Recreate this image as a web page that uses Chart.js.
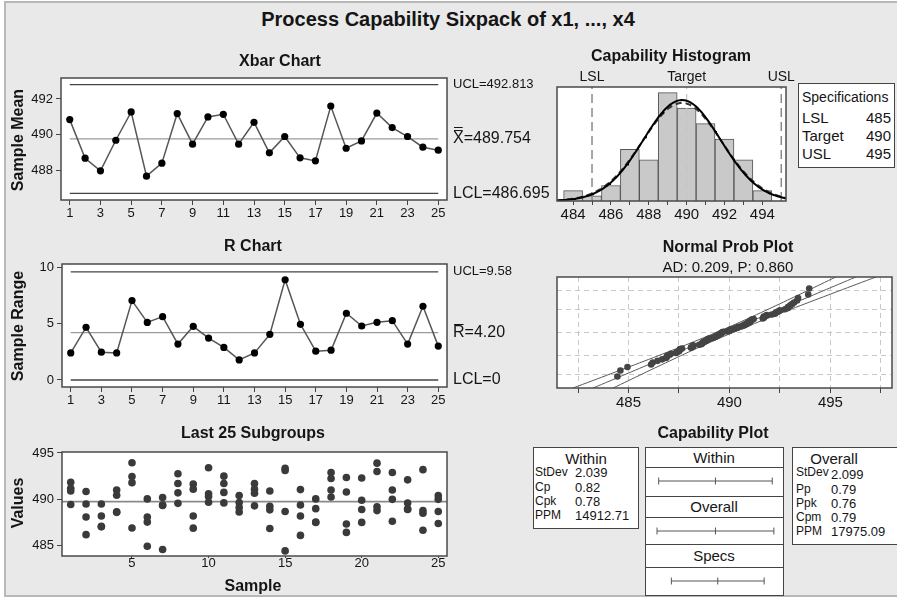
<!DOCTYPE html>
<html>
<head>
<meta charset="utf-8">
<title>Process Capability Sixpack</title>
<script src="https://cdn.jsdelivr.net/npm/chart.js@4.4.1/dist/chart.umd.min.js"></script>
<style>
  body { margin: 0; width: 897px; height: 597px; background: #fff; overflow: hidden;
         font-family: "Liberation Sans", Arial, sans-serif; color: #151515; }
  #frame { position: absolute; left: 4px; top: 1px; width: 900px; height: 592px;
           background: #e9e9e9; border: 2px solid #b8b8b8; border-right: none; }
  canvas { position: absolute; }
  .c { position: absolute; white-space: nowrap; transform: translate(-50%, -50%); }
  .l { position: absolute; white-space: nowrap; transform: translate(0, -50%); }
  .v { position: absolute; white-space: nowrap; transform: translate(-50%, -50%) rotate(-90deg); }
  .b { font-weight: bold; font-size: 16px; }
  .box { position: absolute; border: 1px solid #444; background: #fff; box-sizing: border-box; }
</style>
</head>
<body>
<div id="frame"></div>

<canvas id="xbar"></canvas>
<canvas id="rchart"></canvas>
<canvas id="last25"></canvas>
<canvas id="hist"></canvas>
<canvas id="prob"></canvas>

<div class="c" style="left:448px;top:19px;font-weight:bold;font-size:20px;">Process Capability Sixpack of x1, ..., x4</div>

<div class="c b" style="left:280px;top:61px;">Xbar Chart</div>
<div class="v b" style="left:18px;top:140px;">Sample Mean</div>
<div class="c b" style="left:253px;top:246px;">R Chart</div>
<div class="v b" style="left:18px;top:326px;">Sample Range</div>
<div class="c b" style="left:253px;top:433px;">Last 25 Subgroups</div>
<div class="v b" style="left:18px;top:503px;">Values</div>
<div class="c b" style="left:253px;top:586px;">Sample</div>

<div class="c b" style="left:671px;top:56px;">Capability Histogram</div>
<div class="c b" style="left:728px;top:247px;">Normal Prob Plot</div>
<div class="c" style="left:728px;top:266px;font-size:15px;">AD: 0.209, P: 0.860</div>
<div class="c b" style="left:713px;top:433px;">Capability Plot</div>

<!-- specification limits -->
<div class="box" style="left:798px;top:83px;width:97px;height:85px;"></div>
<div class="l" style="left:802px;top:97px;font-size:14px;">Specifications</div>
<div id="specRows"></div>

<!-- within / overall statistics -->
<div class="box" style="left:533px;top:447px;width:106px;height:82px;"></div>
<div class="c" style="left:586px;top:458px;font-size:15px;">Within</div>
<div id="withinRows"></div>
<div class="box" style="left:792px;top:447px;width:110px;height:98px;"></div>
<div class="c" style="left:834px;top:458px;font-size:15px;">Overall</div>
<div id="overallRows"></div>

<!-- interval column -->
<div class="box" style="left:645px;top:447px;width:139px;height:149px;"></div>
<div style="position:absolute;left:645px;top:467px;width:139px;border-top:1px solid #444;"></div>
<div style="position:absolute;left:645px;top:496px;width:139px;border-top:1px solid #444;"></div>
<div style="position:absolute;left:645px;top:517px;width:139px;border-top:1px solid #444;"></div>
<div style="position:absolute;left:645px;top:544px;width:139px;border-top:1px solid #444;"></div>
<div style="position:absolute;left:645px;top:567px;width:139px;border-top:1px solid #444;"></div>
<div class="c" style="left:714px;top:457px;font-size:15px;">Within</div>
<div class="c" style="left:714px;top:506px;font-size:15px;">Overall</div>
<div class="c" style="left:714px;top:555px;font-size:15px;">Specs</div>
<canvas id="ivWithin"></canvas>
<canvas id="ivOverall"></canvas>
<canvas id="ivSpecs"></canvas>

<script>
// subgroup means and ranges, samples 1..25
const samples = [1, 2, 3, 4, 5, 6, 7, 8, 9, 10, 11, 12, 13, 14, 15, 16, 17, 18, 19, 20, 21, 22, 23, 24, 25];
const xbarValues = [490.84, 488.67, 487.96, 489.68, 491.27, 487.66, 488.39, 491.18, 489.46, 490.99,
                    491.14, 489.46, 490.69, 488.97, 489.89, 488.69, 488.52, 491.60, 489.23, 489.64,
                    491.21, 490.39, 489.89, 489.29, 489.12];
const rangeValues = [2.40, 4.66, 2.46, 2.40, 7.03, 5.10, 5.61, 3.18, 4.75, 3.71, 2.88, 1.78, 2.40,
                     4.04, 8.87, 4.93, 2.55, 2.64, 5.91, 4.78, 5.11, 5.25, 3.18, 6.53, 3.00];

// the four measurements of each subgroup
const subgroups = [
  [491.85, 491.2, 490.9, 489.45], [490.85, 489.5, 488.1, 486.2], [489.5, 488.2, 487.1, 487.04],
  [491.0, 490.45, 488.65, 488.6], [493.95, 492.45, 491.8, 486.92], [490.05, 488.1, 487.55, 484.95],
  [490.2, 489.4, 489.35, 484.6], [492.75, 491.7, 490.7, 489.57], [491.65, 491.1, 488.2, 486.9],
  [493.4, 490.6, 490.3, 489.69], [492.5, 491.7, 490.75, 489.62], [490.42, 489.65, 489.13, 488.64],
  [491.7, 491.1, 490.66, 489.3], [490.9, 489.25, 488.87, 486.86], [493.35, 493.1, 488.7, 484.45],
  [491.05, 489.4, 488.2, 486.12], [490.05, 489.0, 487.55, 487.5], [492.9, 492.25, 491.0, 490.26],
  [492.35, 490.8, 487.35, 486.44], [492.3, 489.9, 488.9, 487.52], [493.9, 493.0, 489.2, 488.79],
  [492.9, 491.0, 490.0, 487.65], [492.1, 489.6, 488.95, 488.92], [493.2, 488.8, 488.5, 486.67],
  [490.4, 490.0, 488.7, 487.4]
];

// histogram bins (width 1)
const binCenters = [484, 485, 486, 487, 488, 489, 490, 491, 492, 493, 494];
const binCounts = [2, 1, 3, 10, 8, 21, 18, 15, 12, 8, 2];

// control limits and capability figures
const grandMean = 489.754, xbarUCL = 492.813, xbarLCL = 486.695;
const rBar = 4.20, rUCL = 9.58, rLCL = 0;
const LSL = 485, TARGET = 490, USL = 495;
const sdWithin = 2.039, sdOverall = 2.099;
const specRows = [['LSL', '485'], ['Target', '490'], ['USL', '495']];
const withinRows = [['StDev', '2.039'], ['Cp', '0.82'], ['Cpk', '0.78'], ['PPM', '14912.71']];
const overallRows = [['StDev', '2.099'], ['Pp', '0.79'], ['Ppk', '0.76'], ['Cpm', '0.79'], ['PPM', '17975.09']];
const probGridPercents = [1, 10, 50, 90, 99];

const FONT = '"Liberation Sans", Arial, sans-serif';
Chart.defaults.font.family = FONT;
Chart.defaults.color = '#151515';

// text rows of the little tables
function addRows(holderId, rows, x1, x2, ys, sizes, dy = []) {
  const holder = document.getElementById(holderId);
  rows.forEach((r, i) => {
    holder.insertAdjacentHTML('beforeend',
      `<div class="l" style="left:${x1}px;top:${ys[i]}px;font-size:${sizes[0]}px;">${r[0]}</div>` +
      `<div class="l" style="left:${x2}px;top:${ys[i] + (dy[i] || 0)}px;font-size:${sizes[1]}px;">${r[1]}</div>`);
  });
}
addRows('specRows', specRows, 802, 866, [117, 135, 153], [15, 15]);
addRows('withinRows', withinRows, 535, 575, [472, 487, 501, 515], [12, 13]);
addRows('overallRows', overallRows, 796, 831, [472, 489, 502.5, 517, 530.5], [12, 13], [2]);

// place a canvas and work out padding so the plot area lands on [l, t, r, b]
function fit(id, box, area) {
  const c = document.getElementById(id);
  c.style.left = box[0] + 'px';
  c.style.top = box[1] + 'px';
  c.width = box[2];
  c.height = box[3];
  return {
    canvas: c,
    padding: { left: 0, top: area[1] - box[1], right: box[0] + box[2] - area[2], bottom: 0 },
    yw: area[0] - box[0],
    xh: box[1] + box[3] - area[3]
  };
}

// white plot background and dark border round the plot area
const plotFrame = {
  id: 'plotFrame',
  beforeDraw(chart) {
    const a = chart.chartArea, ctx = chart.ctx;
    ctx.save();
    ctx.fillStyle = '#fff';
    ctx.fillRect(a.left, a.top, a.width, a.height);
    ctx.restore();
  },
  afterDraw(chart) {
    const a = chart.chartArea, ctx = chart.ctx;
    ctx.save();
    ctx.strokeStyle = '#4a4a4a';
    ctx.lineWidth = 1.5;
    ctx.strokeRect(a.left, a.top, a.width, a.height);
    ctx.restore();
  }
};

// UCL / centre / LCL labels to the right of the plot
const limitLabels = {
  id: 'limitLabels',
  afterDraw(chart, args, opts) {
    if (!opts.items) return;
    const ctx = chart.ctx, ys = chart.scales.y;
    ctx.save();
    ctx.fillStyle = '#151515';
    ctx.strokeStyle = '#151515';
    ctx.lineWidth = 1;
    ctx.textBaseline = 'middle';
    opts.items.forEach(it => {
      const py = ys.getPixelForValue(it.value);
      let x = chart.chartArea.right + 6;
      ctx.font = it.size + 'px ' + FONT;
      if (it.symbol) {
        ctx.fillText(it.symbol, x, py);
        const w = ctx.measureText(it.symbol).width;
        for (let k = 0; k < it.bars; k++) {
          const by = Math.round(py - 9 - k * 3) + 0.5;
          ctx.beginPath();
          ctx.moveTo(x + 1, by);
          ctx.lineTo(x + w - 1, by);
          ctx.stroke();
        }
        x += w;
      }
      ctx.fillText(it.text, x, py);
    });
    ctx.restore();
  }
};

// LSL / Target / USL captions above the histogram
const specLabels = {
  id: 'specLabels',
  afterDraw(chart, args, opts) {
    if (!opts.items) return;
    const ctx = chart.ctx, xs = chart.scales.x;
    ctx.save();
    ctx.fillStyle = '#151515';
    ctx.font = '14px ' + FONT;
    ctx.textAlign = 'center';
    ctx.textBaseline = 'middle';
    opts.items.forEach(it => ctx.fillText(it.text, xs.getPixelForValue(it.value), chart.chartArea.top - 10));
    ctx.restore();
  }
};

function axisX(h, min, max, ticks, label, o = {}) {
  return {
    type: 'linear', min, max, offset: false,
    afterBuildTicks: s => { s.ticks = ticks.map(v => ({ value: v })); },
    afterFit: s => { s.height = h; },
    grid: { display: true, offset: false, drawOnChartArea: !!o.grid, drawTicks: true,
            tickLength: o.tickLength ?? 5, color: o.gridColor || '#444', tickColor: '#444' },
    border: { display: false, dash: o.dash || [] },
    ticks: { autoSkip: false, maxRotation: 0, padding: o.padding ?? 1, color: '#151515',
             font: { size: o.size || 13 }, callback: label }
  };
}

function axisY(w, min, max, ticks, o = {}) {
  return {
    type: 'linear', min, max,
    afterBuildTicks: s => { s.ticks = ticks.map(v => ({ value: v })); },
    afterFit: s => { s.width = w; },
    grid: { display: ticks.length > 0, drawOnChartArea: !!o.grid, drawTicks: !o.hideLabels,
            tickLength: 5, color: o.gridColor || '#444', tickColor: '#444' },
    border: { display: false, dash: o.dash || [] },
    ticks: { display: !o.hideLabels, padding: 3, color: '#151515', font: { size: 13 },
             callback: v => String(v) }
  };
}

function hLine(y, x0, x1, color, width) {
  return { data: [{ x: x0, y }, { x: x1, y }], borderColor: color, borderWidth: width,
           pointRadius: 0, fill: false };
}

const base = {
  responsive: false, animation: false, events: [],
  plugins: { legend: { display: false }, tooltip: { enabled: false } }
};
const oddTicks = samples.filter(s => s % 2 === 1);

// Xbar chart
const fx = fit('xbar', [0, 66, 560, 156], [61, 78, 447, 200]);
new Chart(fx.canvas, {
  type: 'line',
  data: { datasets: [
    { data: samples.map((s, i) => ({ x: s, y: xbarValues[i] })), borderColor: '#555', borderWidth: 1.5,
      pointRadius: 3.6, pointBackgroundColor: '#000', pointBorderWidth: 0 },
    hLine(xbarUCL, 1, 25, '#444', 1.3),
    hLine(grandMean, 1, 25, '#9a9a9a', 1.2),
    hLine(xbarLCL, 1, 25, '#444', 1.3)
  ] },
  options: { ...base, layout: { padding: fx.padding },
    plugins: { ...base.plugins, limitLabels: { items: [
      { value: xbarUCL, text: 'UCL=' + xbarUCL.toFixed(3), size: 13 },
      { value: grandMean, symbol: 'X', bars: 2, text: '=' + grandMean.toFixed(3), size: 16 },
      { value: xbarLCL, text: 'LCL=' + xbarLCL.toFixed(3), size: 16 }
    ] } },
    scales: {
      x: axisX(fx.xh, 0.43, 25.57, oddTicks, v => String(v)),
      y: axisY(fx.yw, 486.32, 493.18, [488, 490, 492])
    } },
  plugins: [plotFrame, limitLabels]
});

// R chart
const fr = fit('rchart', [0, 252, 560, 157], [62, 264, 447, 387]);
new Chart(fr.canvas, {
  type: 'line',
  data: { datasets: [
    { data: samples.map((s, i) => ({ x: s, y: rangeValues[i] })), borderColor: '#555', borderWidth: 1.5,
      pointRadius: 3.6, pointBackgroundColor: '#000', pointBorderWidth: 0 },
    hLine(rUCL, 1, 25, '#444', 1.3),
    hLine(rBar, 1, 25, '#9a9a9a', 1.2),
    hLine(rLCL, 1, 25, '#444', 1.3)
  ] },
  options: { ...base, layout: { padding: fr.padding },
    plugins: { ...base.plugins, limitLabels: { items: [
      { value: rUCL, text: 'UCL=' + rUCL.toFixed(2), size: 13 },
      { value: rBar, symbol: 'R', bars: 1, text: '=' + rBar.toFixed(2), size: 16 },
      { value: rLCL, text: 'LCL=' + rLCL, size: 16 }
    ] } },
    scales: {
      x: axisX(fr.xh, 0.43, 25.57, oddTicks, v => String(v)),
      y: axisY(fr.yw, -0.62, 10.27, [0, 5, 10])
    } },
  plugins: [plotFrame, limitLabels]
});

// last 25 subgroups
const fl = fit('last25', [0, 440, 560, 138], [62, 452, 447, 556]);
const subPoints = [];
subgroups.forEach((g, i) => g.forEach(v => subPoints.push({ x: samples[i], y: v })));
new Chart(fl.canvas, {
  type: 'line',
  data: { datasets: [
    { data: subPoints, showLine: false, pointRadius: 3.8, pointBackgroundColor: '#3a3a3a', pointBorderWidth: 0 },
    hLine(grandMean, 0.43, 25.57, '#8a8a8a', 1.6)
  ] },
  options: { ...base, layout: { padding: fl.padding },
    scales: {
      x: axisX(fl.xh, 0.43, 25.57, [5, 10, 15, 20, 25], v => String(v), { tickLength: 2, padding: -2 }),
      y: axisY(fl.yw, 483.9, 495.1, [485, 490, 495])
    } },
  plugins: [plotFrame]
});

// capability histogram with within (solid) and overall (dashed) normal curves
function normalCurve(mu, sd, n, x0, x1) {
  const pts = [];
  for (let x = x0; x <= x1 + 1e-9; x += 0.05) {
    const z = (x - mu) / sd;
    pts.push({ x, y: n * Math.exp(-0.5 * z * z) / (sd * Math.sqrt(2 * Math.PI)) });
  }
  return pts;
}
const nObs = binCounts.reduce((a, b) => a + b, 0);
const histMax = 22.1;
const fh = fit('hist', [540, 60, 260, 162], [557, 87, 786, 201]);
new Chart(fh.canvas, {
  type: 'bar',
  data: { datasets: [
    { type: 'line', data: normalCurve(grandMean, sdWithin, nObs, 483.15, 495.25), borderColor: '#000',
      borderWidth: 2, pointRadius: 0 },
    { type: 'line', data: normalCurve(grandMean, sdOverall, nObs, 483.15, 495.25), borderColor: '#333',
      borderWidth: 2, borderDash: [6, 4], pointRadius: 0 },
    { type: 'line', data: [{ x: LSL, y: 0 }, { x: LSL, y: histMax }], borderColor: '#8a8a8a',
      borderWidth: 1.5, borderDash: [9, 5], pointRadius: 0 },
    { type: 'line', data: [{ x: USL, y: 0 }, { x: USL, y: histMax }], borderColor: '#8a8a8a',
      borderWidth: 1.5, borderDash: [9, 5], pointRadius: 0 },
    { type: 'line', data: [{ x: TARGET, y: 0 }, { x: TARGET, y: histMax }], borderColor: '#c4c4c4',
      borderWidth: 1.2, borderDash: [9, 5], pointRadius: 0 },
    { data: binCenters.map((c, i) => ({ x: c, y: binCounts[i] })), backgroundColor: '#c9c9c9',
      borderColor: '#555', borderWidth: 1, barPercentage: 1, categoryPercentage: 1 }
  ] },
  options: { ...base, layout: { padding: fh.padding },
    plugins: { ...base.plugins, specLabels: { items: [
      { value: LSL, text: 'LSL' }, { value: TARGET, text: 'Target' }, { value: USL, text: 'USL' }
    ] } },
    scales: {
      x: axisX(fh.xh, 483.15, 495.25, binCenters, v => (v % 2 === 0 ? String(v) : ''), { size: 15, tickLength: 4 }),
      y: axisY(fh.yw, 0, histMax, [], { hideLabels: true })
    } },
  plugins: [plotFrame, specLabels]
});

// normal probability plot
function probit(p) {
  const a = [-3.969683028665376e+01, 2.209460984245205e+02, -2.759285104469687e+02,
             1.383577518672690e+02, -3.066479806614716e+01, 2.506628277459239e+00];
  const b = [-5.447609879822406e+01, 1.615858368580409e+02, -1.556989798598866e+02,
             6.680131188771972e+01, -1.328068155288572e+01];
  const c = [-7.784894002430293e-03, -3.223964580411365e-01, -2.400758277161838e+00,
             -2.549732539343734e+00, 4.374664141464968e+00, 2.938163982698783e+00];
  const d = [7.784695709041462e-03, 3.224671290700398e-01, 2.445134137142996e+00, 3.754408661907416e+00];
  const tail = q => (((((c[0] * q + c[1]) * q + c[2]) * q + c[3]) * q + c[4]) * q + c[5]) /
                    ((((d[0] * q + d[1]) * q + d[2]) * q + d[3]) * q + 1);
  if (p < 0.02425) return tail(Math.sqrt(-2 * Math.log(p)));
  if (p > 0.97575) return -tail(Math.sqrt(-2 * Math.log(1 - p)));
  const q = p - 0.5, r = q * q;
  return (((((a[0] * r + a[1]) * r + a[2]) * r + a[3]) * r + a[4]) * r + a[5]) * q /
         (((((b[0] * r + b[1]) * r + b[2]) * r + b[3]) * r + b[4]) * r + 1);
}
const sorted = subgroups.flat().sort((a, b) => a - b);
const probPoints = sorted.map((v, i) => ({ x: v, y: probit((i + 1 - 0.3) / (sorted.length + 0.4)) }));
const zRange = 3.1;
const fitLine = [], bandLo = [], bandHi = [];
for (let z = -zRange; z <= zRange + 1e-9; z += 0.1) {
  const xp = grandMean + z * sdOverall;
  const se = sdOverall * Math.sqrt(1 / sorted.length + z * z / (2 * (sorted.length - 1)));
  fitLine.push({ x: xp, y: z });
  bandLo.push({ x: xp - 1.96 * se, y: z });
  bandHi.push({ x: xp + 1.96 * se, y: z });
}
const fp = fit('prob', [540, 262, 357, 150], [557, 277, 892, 388]);
const lineStyle = { borderColor: '#5a5a5a', borderWidth: 1, pointRadius: 0, tension: 0 };
new Chart(fp.canvas, {
  type: 'line',
  data: { datasets: [
    { data: probPoints, showLine: false, pointRadius: 3.3, pointBackgroundColor: '#444', pointBorderWidth: 0 },
    { data: fitLine, ...lineStyle },
    { data: bandLo, ...lineStyle },
    { data: bandHi, ...lineStyle }
  ] },
  options: { ...base, layout: { padding: fp.padding },
    scales: {
      x: axisX(fp.xh, 481.46, 498.05, [482.5, 485, 487.5, 490, 492.5, 495, 497.5],
               v => (v % 5 === 0 ? String(v) : ''),
               { grid: true, gridColor: '#c8c8c8', dash: [5, 4], size: 15 }),
      y: axisY(fp.yw, -zRange, zRange, probGridPercents.map(p => probit(p / 100)),
               { grid: true, gridColor: '#c8c8c8', dash: [5, 4], hideLabels: true })
    } },
  plugins: [plotFrame]
});

// capability intervals: process spread (mean ± 3 sd) against the specs
function intervalChart(id, top, pts) {
  const c = document.getElementById(id);
  c.style.left = '645px';
  c.style.top = top + 'px';
  c.width = 139;
  c.height = 28;
  new Chart(c, {
    type: 'line',
    data: { datasets: [{ data: pts.map(v => ({ x: v, y: 0 })), borderColor: '#555', borderWidth: 1,
      pointStyle: 'line', pointRotation: 90, pointRadius: 3.5, pointBorderColor: '#555', pointBorderWidth: 1 }] },
    options: { ...base, layout: { padding: 0 },
      scales: { x: { type: 'linear', display: false, min: 482.7, max: 496.6 },
                y: { display: false, min: -1, max: 1 } } }
  });
}
intervalChart('ivWithin', 467, [grandMean - 3 * sdWithin, grandMean, grandMean + 3 * sdWithin]);
intervalChart('ivOverall', 517, [grandMean - 3 * sdOverall, grandMean, grandMean + 3 * sdOverall]);
intervalChart('ivSpecs', 567, [LSL, TARGET, USL]);
</script>
</body>
</html>
